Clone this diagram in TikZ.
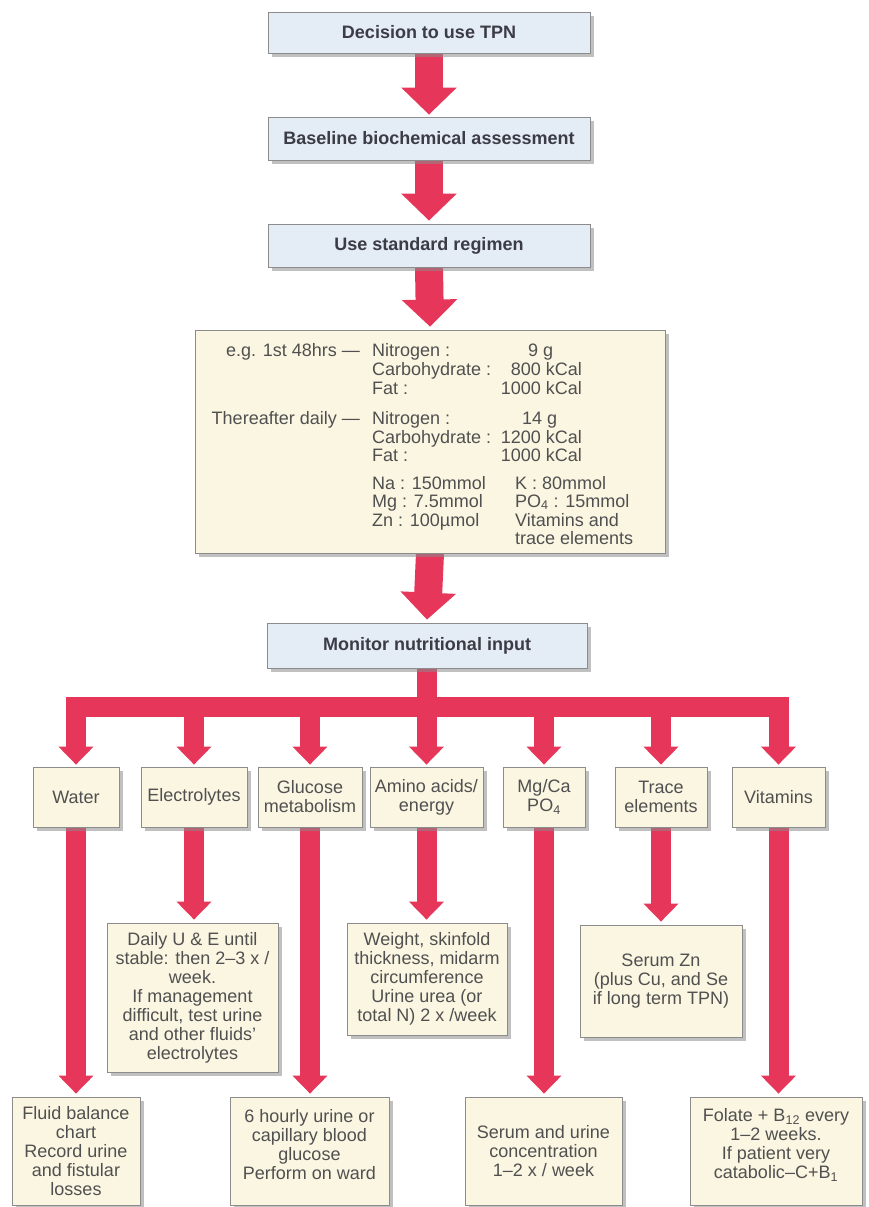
\documentclass[tikz,border=0pt]{standalone}
\usepackage{fontspec}
\setmainfont{Liberation Sans}
\usetikzlibrary{arrows.meta,shadows,backgrounds,calc}
\definecolor{arrowred}{RGB}{230,55,90}
\definecolor{bluefill}{RGB}{228,236,246}
\definecolor{creamfill}{RGB}{250,246,226}
\definecolor{boxline}{RGB}{140,140,140}
\definecolor{txtdark}{RGB}{60,60,70}
\definecolor{txtgray}{RGB}{80,80,80}
\begin{document}
\begin{tikzpicture}[x=1pt,y=-1pt,
  shadowed/.style={drop shadow={shadow xshift=4pt,shadow yshift=-4pt,fill=black!45,opacity=0.55}},
  bluebox/.style={draw=boxline,line width=0.8pt,fill=bluefill,shadowed,inner sep=0pt,
    font=\fontsize{18}{19}\selectfont\bfseries,text=txtdark},
  creambox/.style={draw=boxline,line width=0.8pt,fill=creamfill,shadowed,inner sep=0pt,
    font=\fontsize{18}{19}\selectfont,text=txtgray,align=center},
  plaintxt/.style={inner sep=0pt,font=\fontsize{18}{19}\selectfont,text=txtgray,align=center},
  bigarrow/.style={draw=arrowred,line width=28pt,-{Triangle[width=54pt,length=27pt]}},
  brarrow/.style={draw=arrowred,line width=20pt,-{Triangle[width=34pt,length=18pt]}},
  barline/.style={draw=arrowred,line width=20pt},
]
\useasboundingbox (0,0) rectangle (868,1207);

% ---- top chain ----
\node[bluebox,minimum width=322pt,minimum height=41pt] (n1) at (429,32.5) {Decision to use TPN};
\node[bluebox,minimum width=322pt,minimum height=43pt] (n2) at (429,138.5) {Baseline biochemical assessment};
\node[bluebox,minimum width=322pt,minimum height=43pt] (n3) at (429,245.5) {Use standard regimen};
\node[creambox,minimum width=470pt,minimum height=223pt] (reg) at (430,441.5) {};
\node[bluebox,minimum width=320pt,minimum height=45pt] (mon) at (427,645.5) {Monitor nutritional input};

% ---- regimen text ----
\begin{scope}[every node/.style={plaintxt}]
\node[anchor=base east] (r1) at (360,356) {e.g. 1st 48hrs —};
\node[anchor=base west] (r2) at (372,356) {Nitrogen :};
\node[anchor=base west] (r3) at (528,356) {9 g};
\node[anchor=base west] (r4) at (372,375) {Carbohydrate :};
\node[anchor=base east] (r5) at (582,375) {800 kCal};
\node[anchor=base west] (r6) at (372,394) {Fat :};
\node[anchor=base east] (r7) at (582,394) {1000 kCal};
\node[anchor=base east] (r8) at (360,424) {Thereafter daily —};
\node[anchor=base west] (r9) at (372,424) {Nitrogen :};
\node[anchor=base west] (r10) at (522,424) {14 g};
\node[anchor=base west] (r11) at (372,443) {Carbohydrate :};
\node[anchor=base east] (r12) at (582,443) {1200 kCal};
\node[anchor=base west] (r13) at (372,461) {Fat :};
\node[anchor=base east] (r14) at (582,461) {1000 kCal};
\node[anchor=base west] (r15) at (372,489) {Na : 150mmol};
\node[anchor=base west] (r16) at (515,489) {K : 80mmol};
\node[anchor=base west] (r17) at (372,507) {Mg : 7.5mmol};
\node[anchor=base west] (r18) at (515,507) {PO\textsubscript{4} : 15mmol};
\node[anchor=base west] (r19) at (372,526) {Zn : 100µmol};
\node[anchor=base west] (r20) at (515,526) {Vitamins and};
\node[anchor=base west] (r21) at (515,544) {trace elements};
\end{scope}

% ---- second row ----
\node[creambox,minimum width=86pt,minimum height=60pt] (water) at (76,797) {Water};
\node[creambox,minimum width=106pt,minimum height=60pt] (elec) at (194,797) {Electrolytes};
\node[creambox,minimum width=104pt,minimum height=60pt] (gluc) at (310,797) {Glucose\\metabolism};
\node[creambox,minimum width=113pt,minimum height=60pt] (amino) at (426.5,797) {Amino acids/\\energy};
\node[creambox,minimum width=82pt,minimum height=60pt] (mgca) at (544,797) {Mg/Ca\\PO\textsubscript{4}};
\node[creambox,minimum width=92pt,minimum height=60pt] (trace) at (661,797) {Trace\\elements};
\node[creambox,minimum width=93pt,minimum height=60pt] (vit) at (778.5,797) {Vitamins};

% ---- detail boxes ----
\node[creambox,minimum width=171pt,minimum height=149pt] (elecd) at (192.5,997.5)
  {Daily U \& E until\\stable: then 2–3 x /\\week.\\If management\\difficult, test urine\\and other fluids'\\electrolytes};
\node[creambox,minimum width=160pt,minimum height=112pt] (aminod) at (427,979)
  {Weight, skinfold\\thickness, midarm\\circumference\\Urine urea (or\\total N) 2 x /week};
\node[creambox,minimum width=162pt,minimum height=112pt] (traced) at (661,981)
  {Serum Zn\\(plus Cu, and Se\\if long term TPN)};

% ---- bottom boxes ----
\node[creambox,minimum width=128pt,minimum height=108pt] (fluid) at (76,1151)
  {Fluid balance\\chart\\Record urine\\and fistular\\losses};
\node[creambox,minimum width=159pt,minimum height=108pt] (glucd) at (309.5,1151) {};
\node[plaintxt] (glucdt) at (309.5,1145) {6 hourly urine or\\capillary blood\\glucose\\Perform on ward};
\node[creambox,minimum width=157pt,minimum height=108pt] (mgd) at (543.5,1151)
  {Serum and urine\\concentration\\1–2 x / week};
\node[creambox,minimum width=172pt,minimum height=108pt] (vitd) at (776,1151) {};
\node[plaintxt] (vitdt) at (776,1145) {Folate + B\textsubscript{12} every\\1–2 weeks.\\If patient very\\catabolic–C+B\textsubscript{1}};

% ---- connectors ----
\begin{pgfonlayer}{background}
\draw[bigarrow] (n1.south) -- ($(n2.north)+(0,-2)$);
\draw[bigarrow] (n2.south) -- ($(n3.north)+(0,-3)$);
\draw[bigarrow] (n3.south) -- ($(reg.north)+(0,-3)$);
\draw[bigarrow] (reg.south) -- ($(mon.north)+(0,-3)$);
\coordinate (bar) at ($(mon.south)+(0,39)$);
\draw[barline] (mon.south) -- (bar);
\draw[barline,line cap=rect] (water.north |- bar) -- (vit.north |- bar);
\foreach \b in {water,elec,gluc,amino,mgca,trace,vit}
  \draw[brarrow] (\b.north |- bar) -- ($(\b.north)+(0,-2)$);
\draw[brarrow] (water.south) -- ($(water.south |- fluid.north)+(0,-3)$);
\draw[brarrow] (elec.south) -- ($(elec.south |- elecd.north)+(0,-3)$);
\draw[brarrow] (gluc.south) -- ($(gluc.south |- glucd.north)+(0,-3)$);
\draw[brarrow] (amino.south) -- ($(amino.south |- aminod.north)+(0,-3)$);
\draw[brarrow] (mgca.south) -- ($(mgca.south |- mgd.north)+(0,-3)$);
\draw[brarrow] (trace.south) -- ($(trace.south |- traced.north)+(0,-3)$);
\draw[brarrow] (vit.south) -- ($(vit.south |- vitd.north)+(0,-3)$);
\end{pgfonlayer}
\end{tikzpicture}
\end{document}
